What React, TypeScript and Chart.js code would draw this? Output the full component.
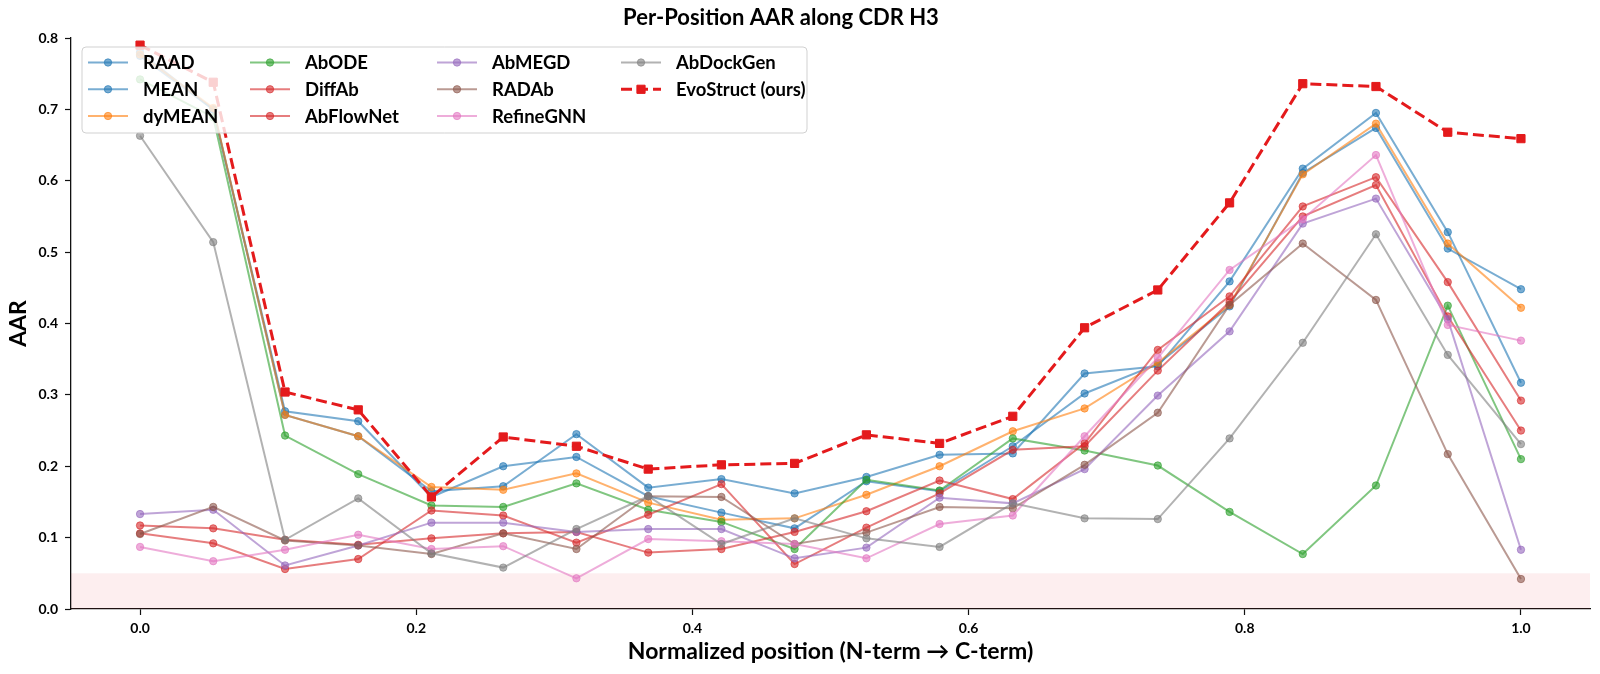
import React, { useEffect, useRef } from 'react';
import { Chart, registerables } from 'chart.js';

Chart.register(...registerables);

const FONT = "Lato, 'DejaVu Sans', sans-serif";

const chartTitle = 'Per-Position AAR along CDR H3';
const xAxisTitle = 'Normalized position (N-term → C-term)';
const yAxisTitle = 'AAR';

const positions = [0.0, 0.053, 0.105, 0.158, 0.211, 0.263, 0.316, 0.368, 0.421, 0.474, 0.526, 0.579, 0.632, 0.684, 0.737, 0.789, 0.842, 0.895, 0.947, 1.0];
const xTicks = [0.0, 0.2, 0.4, 0.6, 0.8, 1.0];
const yTicks = [0.0, 0.1, 0.2, 0.3, 0.4, 0.5, 0.6, 0.7, 0.8];
const BAND_MAX = 0.05;

const seriesNames = ['RAAD', 'MEAN', 'dyMEAN', 'AbODE', 'DiffAb', 'AbFlowNet', 'AbMEGD', 'RADAb', 'RefineGNN', 'AbDockGen', 'EvoStruct (ours)'];

const raad = [0.775, 0.700, 0.277, 0.263, 0.157, 0.200, 0.213, 0.158, 0.135, 0.113, 0.179, 0.165, 0.228, 0.302, 0.343, 0.424, 0.611, 0.674, 0.505, 0.448];
const mean = [0.780, 0.700, 0.272, 0.242, 0.165, 0.172, 0.245, 0.170, 0.182, 0.162, 0.185, 0.216, 0.218, 0.330, 0.340, 0.459, 0.617, 0.695, 0.528, 0.317];
const dymean = [0.777, 0.702, 0.272, 0.242, 0.171, 0.167, 0.190, 0.149, 0.125, 0.127, 0.160, 0.200, 0.249, 0.281, 0.345, 0.426, 0.609, 0.680, 0.512, 0.422];
const abode = [0.742, 0.689, 0.243, 0.189, 0.145, 0.143, 0.176, 0.139, 0.122, 0.084, 0.181, 0.166, 0.239, 0.222, 0.201, 0.136, 0.077, 0.173, 0.425, 0.210];
const diffab = [0.117, 0.113, 0.097, 0.090, 0.099, 0.106, 0.108, 0.079, 0.084, 0.108, 0.137, 0.180, 0.154, 0.232, 0.363, 0.438, 0.564, 0.605, 0.458, 0.292];
const abflownet = [0.106, 0.092, 0.056, 0.070, 0.138, 0.131, 0.093, 0.132, 0.175, 0.063, 0.114, 0.162, 0.223, 0.228, 0.334, 0.430, 0.550, 0.594, 0.410, 0.250];
const abmegd = [0.133, 0.139, 0.061, 0.089, 0.121, 0.121, 0.108, 0.112, 0.112, 0.071, 0.086, 0.156, 0.148, 0.196, 0.299, 0.389, 0.540, 0.575, 0.406, 0.083];
const radab = [0.105, 0.143, 0.096, 0.089, 0.077, 0.106, 0.084, 0.158, 0.157, 0.091, 0.107, 0.143, 0.141, 0.202, 0.275, 0.426, 0.512, 0.433, 0.217, 0.042];
const refinegnn = [0.087, 0.067, 0.083, 0.104, 0.084, 0.088, 0.043, 0.098, 0.095, 0.091, 0.071, 0.119, 0.131, 0.242, 0.352, 0.475, 0.546, 0.636, 0.398, 0.376];
const abdockgen = [0.663, 0.514, 0.097, 0.155, 0.078, 0.058, 0.112, 0.158, 0.091, 0.127, 0.099, 0.087, 0.148, 0.127, 0.126, 0.239, 0.373, 0.525, 0.356, 0.231];
const evostruct = [0.790, 0.738, 0.304, 0.279, 0.157, 0.241, 0.228, 0.196, 0.202, 0.204, 0.244, 0.232, 0.270, 0.394, 0.447, 0.569, 0.736, 0.732, 0.668, 0.659];

const seriesValues = [raad, mean, dymean, abode, diffab, abflownet, abmegd, radab, refinegnn, abdockgen, evostruct];
const seriesColors = ['31,119,180', '31,119,180', '255,127,14', '44,160,44', '214,39,40', '214,39,40', '148,103,189', '140,86,75', '227,119,194', '127,127,127', '228,26,28'];

const BASE_ALPHA = 0.6;

// legend layout (pixels)
const LEGEND_BOX = { left: 82, top: 47, right: 807, bottom: 133 };
const LEGEND_TEXT_X = [143, 305, 492, 676];
const LEGEND_ROW_Y = [62.5, 89.3, 116];

const decorPlugin = {
  id: 'decor',
  beforeDatasetsDraw(chart: any) {
    const { ctx, chartArea, scales } = chart;
    const y0 = scales.y.getPixelForValue(0);
    const y1 = scales.y.getPixelForValue(BAND_MAX);
    ctx.save();
    ctx.fillStyle = 'rgba(230,30,40,0.075)';
    ctx.fillRect(chartArea.left, y1, chartArea.right - chartArea.left, y0 - y1);
    ctx.restore();
  },
  afterDatasetsDraw(chart: any) {
    const { ctx } = chart;
    const datasets = chart.data.datasets;
    const nrows = LEGEND_ROW_Y.length;
    const handleLen = 40;
    const textPad = 15;
    ctx.save();
    ctx.beginPath();
    (ctx as any).roundRect(LEGEND_BOX.left, LEGEND_BOX.top, LEGEND_BOX.right - LEGEND_BOX.left, LEGEND_BOX.bottom - LEGEND_BOX.top, 4);
    ctx.fillStyle = 'rgba(255,255,255,0.8)';
    ctx.fill();
    ctx.strokeStyle = 'rgba(204,204,204,0.9)';
    ctx.lineWidth = 1;
    ctx.stroke();
    ctx.font = `bold 18.5px ${FONT}`;
    datasets.forEach((ds: any, k: number) => {
      const c = Math.floor(k / nrows);
      const r = k % nrows;
      const tx = LEGEND_TEXT_X[c];
      const hx = tx - textPad - handleLen;
      const hy = LEGEND_ROW_Y[r];
      ctx.save();
      ctx.strokeStyle = ds.borderColor;
      ctx.lineWidth = ds.borderWidth;
      ctx.setLineDash(ds.borderDash || []);
      ctx.beginPath();
      ctx.moveTo(hx, hy);
      ctx.lineTo(hx + handleLen, hy);
      ctx.stroke();
      ctx.setLineDash([]);
      ctx.fillStyle = ds.pointBackgroundColor;
      ctx.strokeStyle = ds.pointBorderColor;
      ctx.lineWidth = ds.pointBorderWidth;
      const mx = hx + handleLen / 2;
      ctx.beginPath();
      if (ds.pointStyle === 'rect') {
        const s = ds.pointRadius * Math.SQRT1_2;
        ctx.rect(mx - s, hy - s, 2 * s, 2 * s);
      } else {
        ctx.arc(mx, hy, ds.pointRadius, 0, Math.PI * 2);
      }
      ctx.fill();
      ctx.stroke();
      ctx.restore();
      ctx.fillStyle = '#000';
      ctx.textBaseline = 'middle';
      ctx.textAlign = 'left';
      ctx.fillText(ds.label, tx, hy + 1);
    });
    ctx.restore();
  },
  afterDraw(chart: any) {
    const { ctx } = chart;
    ctx.save();
    ctx.font = `bold 22px ${FONT}`;
    ctx.fillStyle = '#000';
    ctx.textAlign = 'center';
    ctx.textBaseline = 'middle';
    ctx.fillText(chartTitle, 781, 18);
    ctx.restore();
  },
};

export default function App() {
  const canvasRef = useRef<HTMLCanvasElement | null>(null);

  useEffect(() => {
    const canvas = canvasRef.current;
    if (!canvas) return;
    const n = seriesNames.length;
    const datasets = seriesNames.map((name, i) => {
      const isOurs = i === n - 1;
      const col = isOurs ? `rgba(${seriesColors[i]},1)` : `rgba(${seriesColors[i]},${BASE_ALPHA})`;
      return {
        label: name,
        data: positions.map((x, j) => ({ x, y: seriesValues[i][j] })),
        borderColor: col,
        backgroundColor: col,
        borderWidth: isOurs ? 3 : 2,
        borderDash: isOurs ? [11, 5] : [],
        pointStyle: isOurs ? 'rect' : 'circle',
        pointRadius: isOurs ? 5.8 : 3.7,
        pointBorderWidth: 1,
        pointBackgroundColor: col,
        pointBorderColor: col,
        tension: 0,
        clip: false as any,
        order: n - 1 - i,
      };
    });

    const chart = new Chart(canvas, {
      type: 'line',
      data: { datasets: datasets as any },
      plugins: [decorPlugin],
      options: {
        responsive: false,
        animation: false,
        devicePixelRatio: 1,
        layout: { padding: { top: 38, right: 10, left: 0, bottom: 0 }, autoPadding: false } as any,
        plugins: {
          legend: { display: false },
          title: { display: false },
          tooltip: { enabled: false },
        },
        scales: {
          x: {
            type: 'linear',
            min: -0.05,
            max: 1.05,
            afterBuildTicks: (s: any) => {
              s.ticks = xTicks.map((v) => ({ value: v }));
            },
            afterFit: (s: any) => {
              s.height = 65;
            },
            grid: { display: true, drawOnChartArea: false, drawTicks: true, tickLength: 6, color: '#111', tickWidth: 1.2 },
            border: { display: true, color: '#111', width: 1.3 },
            ticks: {
              color: '#000',
              font: { family: FONT, size: 14, weight: 'bold' },
              padding: 5,
              maxRotation: 0,
              callback: (v: any) => Number(v).toFixed(1),
            },
            title: {
              display: true,
              text: xAxisTitle,
              color: '#000',
              font: { family: FONT, size: 23, weight: 'bold' },
              padding: { top: 0, bottom: 9 },
            },
          },
          y: {
            type: 'linear',
            min: 0,
            max: 0.8,
            afterBuildTicks: (s: any) => {
              s.ticks = yTicks.map((v) => ({ value: v }));
            },
            afterFit: (s: any) => {
              s.width = 71;
            },
            grid: { display: true, drawOnChartArea: false, drawTicks: true, tickLength: 6, color: '#111', tickWidth: 1.2 },
            border: { display: true, color: '#111', width: 1.3 },
            ticks: {
              color: '#000',
              font: { family: FONT, size: 14, weight: 'bold' },
              padding: 7,
              callback: (v: any) => Number(v).toFixed(1),
            },
            title: {
              display: true,
              text: yAxisTitle,
              color: '#000',
              font: { family: FONT, size: 23, weight: 'bold' },
              padding: { top: 5, bottom: 0 },
            },
          },
        },
      } as any,
    });
    return () => chart.destroy();
  }, []);

  return (
    <div style={{ position: 'absolute', left: 0, top: 0, width: 1600, height: 674, background: '#fff' }}>
      <canvas ref={canvasRef} width={1600} height={674} style={{ display: 'block', width: 1600, height: 674 }} />
    </div>
  );
}
